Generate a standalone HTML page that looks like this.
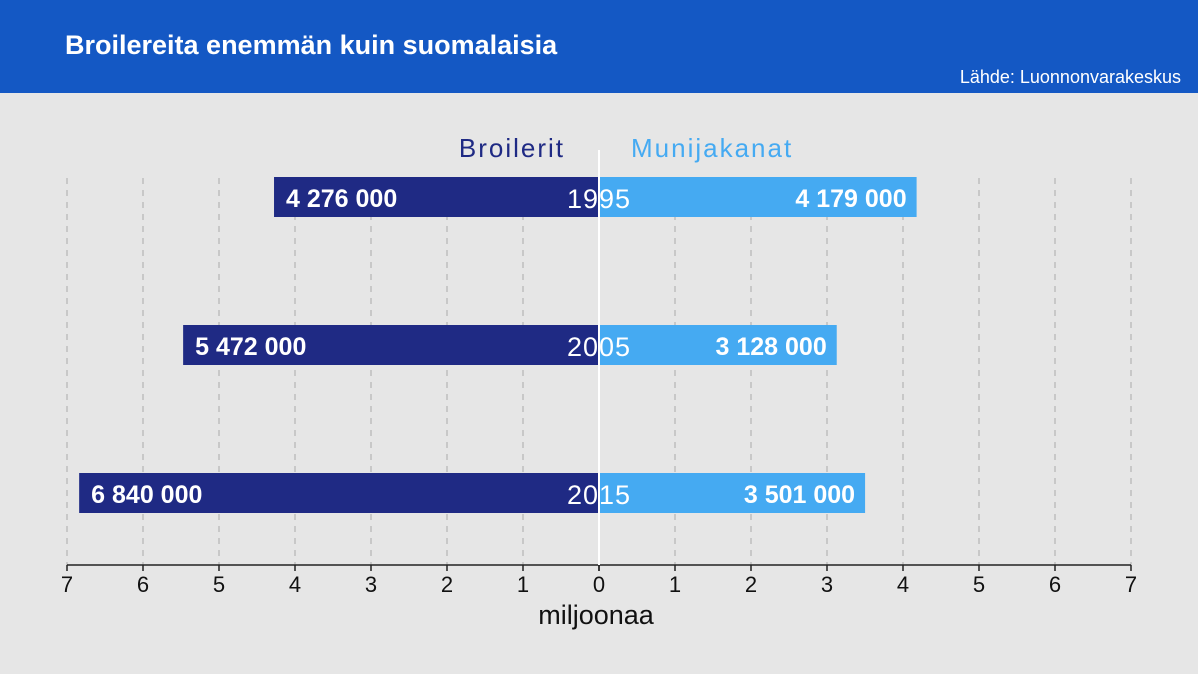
<!DOCTYPE html>
<html><head><meta charset="utf-8"><style>
body{margin:0;width:1198px;height:674px;background:#e6e6e6;font-family:"Liberation Sans","DejaVu Sans",sans-serif;overflow:hidden}
#hdr{position:absolute;left:0;top:0;width:1198px;height:93px;background:#1458c4}
#title{position:absolute;left:65px;top:30px;color:#fff;font-weight:bold;font-size:27px}
#src{position:absolute;right:17px;top:67px;color:#fff;font-size:18px}
svg{position:absolute;left:0;top:0}
</style></head><body>
<div id="hdr"></div>
<div id="title">Broilereita enemmän kuin suomalaisia</div>
<div id="src">Lähde: Luonnonvarakeskus</div>
<svg id="chart" width="1198" height="674"></svg>
<script>
const years=["1995","2005","2015"];
const broilers=[4276000,5472000,6840000];
const layers=[4179000,3128000,3501000];
const ticks=[0,1,2,3,4,5,6,7];
const svg=document.getElementById('chart');
const NS='http://www.w3.org/2000/svg';
const x0=599,unit=76,axisY=565;
function xs(v){return x0+v*unit;}
function yRow(i){return 177+i*148;}
function fmt(v){return String(v).replace(/\B(?=(\d{3})+(?!\d))/g,' ');}
function mk(t,a,txt){const e=document.createElementNS(NS,t);for(const k in a)e.setAttribute(k,a[k]);if(txt!=null)e.textContent=txt;svg.appendChild(e);return e;}
ticks.forEach(t=>{[-1,1].forEach(s=>{
 const x=xs(s*t);
 if(t>0){const g=mk('line',{x1:x,x2:x,y1:178,y2:axisY,stroke:'#aaa','stroke-width':1,'stroke-dasharray':'6,6'});
 }
 const tk=mk('line',{x1:x,x2:x,y1:axisY,y2:axisY+6,stroke:'#222','stroke-width':1.5});
 
 if(!(t===0&&s===-1)){const l=mk('text',{x:x,y:592,'text-anchor':'middle','font-size':22,fill:'#111'},String(t));
 }
});});
const ax=mk('line',{x1:xs(-7),x2:xs(7),y1:axisY,y2:axisY,stroke:'#222','stroke-width':1.5});

const at=mk('text',{x:x0-3,y:624,'text-anchor':'middle','font-size':27,fill:'#111'},'miljoonaa');

years.forEach((y,i)=>{
 const top=yRow(i);
 const b=mk('rect',{x:xs(-broilers[i]/1e6),y:top,width:broilers[i]/1e6*unit,height:40,fill:'#1f2a84'});
 
 const m=mk('rect',{x:x0,y:top,width:layers[i]/1e6*unit,height:40,fill:'#45aaf2'});
 
 const bl=mk('text',{x:xs(-broilers[i]/1e6)+12,y:top+30,'font-size':25,'font-weight':'bold',fill:'#fff'},fmt(broilers[i]));
 
 const ml=mk('text',{x:xs(layers[i]/1e6)-10,y:top+30,'text-anchor':'end','font-size':25,'font-weight':'bold',fill:'#fff'},fmt(layers[i]));
 
 const yl=mk('text',{x:x0,y:top+31,'text-anchor':'middle','font-size':27,fill:'#fff','letter-spacing':'1'},y);
 
});
const c=mk('line',{x1:x0,x2:x0,y1:150,y2:axisY,stroke:'#fff','stroke-width':2});

const l1=mk('text',{x:565,y:157,'text-anchor':'end','font-size':26,fill:'#1f2a84','letter-spacing':'2'},'Broilerit');

const l2=mk('text',{x:631,y:157,'font-size':26,fill:'#45aaf2','letter-spacing':'2'},'Munijakanat');

</script>
</body></html>
